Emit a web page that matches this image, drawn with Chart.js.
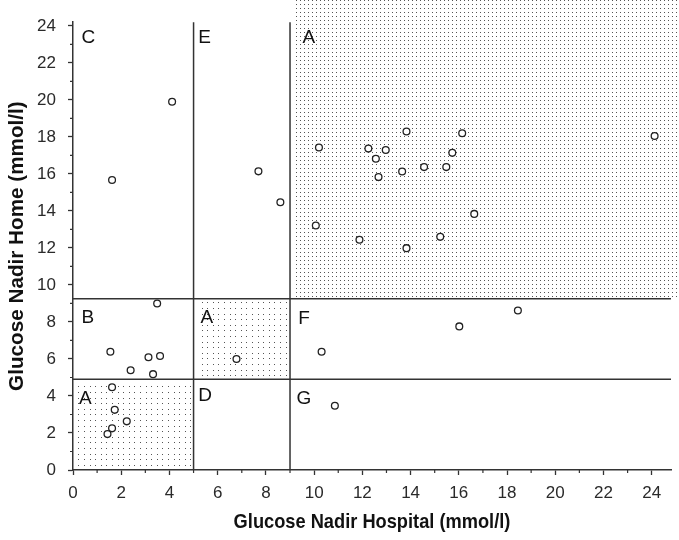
<!DOCTYPE html>
<html><head><meta charset="utf-8">
<script src="https://cdn.jsdelivr.net/npm/chart.js@4/dist/chart.umd.min.js"></script>
<style>html,body{margin:0;padding:0;background:#fff}</style>
</head><body>
<canvas id="c" width="679" height="540"></canvas>
<script>
// Data
const hospital = [1.62, 4.11, 7.69, 8.60,
  10.20, 12.25, 12.97, 12.56, 13.83, 16.14, 24.12, 15.73, 12.67, 13.65, 14.56, 15.48, 16.64, 10.07, 11.88, 15.23, 13.83,
  3.49, 1.55, 3.13, 3.61, 2.39, 3.32, 6.78,
  1.62, 1.73, 2.23, 1.62, 1.43,
  10.31, 16.02, 18.45, 10.86];
const home = [15.67, 19.90, 16.14, 14.47,
  17.43, 17.37, 17.29, 16.82, 18.29, 18.20, 18.05, 17.14, 15.83, 16.13, 16.37, 16.37, 13.84, 13.21, 12.44, 12.60, 11.99,
  9.00, 6.39, 6.09, 6.16, 5.39, 5.18, 6.00,
  4.47, 3.25, 2.63, 2.25, 1.94,
  6.39, 7.76, 8.62, 3.47];
const xCuts = [5, 9];
const yCuts = [4.9, 9.25];
const regionLetters = ['C', 'E', 'A', 'B', 'A', 'F', 'A', 'D', 'G'];
const letterX = [0.35, 5.19, 9.52, 0.35, 5.29, 9.34, 0.25, 5.19, 9.27];
const letterY = [23.35, 23.35, 23.35, 8.22, 8.22, 8.17, 3.86, 4.03, 3.87];
const xLabelValues = [0, 2, 4, 6, 8, 10, 12, 14, 16, 18, 20, 22, 24];
const yLabelValues = [0, 2, 4, 6, 8, 10, 12, 14, 16, 18, 20, 22, 24];
const xTitle = 'Glucose Nadir Hospital (mmol/l)';
const yTitle = 'Glucose Nadir Home (mmol/l)';

const FONT = "'Liberation Sans', Arial, Helvetica, sans-serif";
const INK = '#2a2a2a';
const X_TITLE_SQUEEZE = 0.89;

function stipple(ctx, x1, y1, x2, y2, sp) {
  ctx.save();
  ctx.fillStyle = '#555';
  for (let y = Math.ceil(y1 / sp) * sp; y < y2; y += sp) {
    for (let x = Math.ceil(x1 / sp) * sp; x < x2; x += sp) {
      ctx.fillRect(Math.round(x), Math.round(y), 1, 1);
    }
  }
  ctx.restore();
}

const regionsPlugin = {
  id: 'regions',
  beforeDraw(chart) {
    const s = chart.scales.x;
    if (s && !s._squeezed) {
      const orig = s.drawTitle.bind(s);
      s.drawTitle = function () {
        const ctx = this.ctx, cx = (this.left + this.right) / 2;
        ctx.save();
        ctx.translate(cx, 0); ctx.scale(X_TITLE_SQUEEZE, 1); ctx.translate(-cx, 0);
        orig();
        ctx.restore();
      };
      s._squeezed = true;
    }
  },
  beforeDatasetsDraw(chart) {
    const ctx = chart.ctx;
    const xs = chart.scales.x, ys = chart.scales.y;
    const X = v => xs.getPixelForValue(v), Y = v => ys.getPixelForValue(v);
    const W = chart.width;
    stipple(ctx, X(xCuts[1]) + 2, 0, W, Y(yCuts[1]) - 1, 4);
    stipple(ctx, X(xCuts[0]) + 3, Y(yCuts[1]) + 3, X(xCuts[1]) - 1, Y(yCuts[0]) - 1, 5.6);
    stipple(ctx, X(0) + 3, Y(yCuts[0]) + 3, X(xCuts[0]) - 1, Y(0) - 1, 5.6);
    ctx.save();
    ctx.strokeStyle = '#333';
    ctx.lineWidth = 1.5;
    ctx.beginPath();
    for (const c of xCuts) { ctx.moveTo(X(c), Y(0)); ctx.lineTo(X(c), Y(ys.max)); }
    for (const c of yCuts) { ctx.moveTo(X(0), Y(c)); ctx.lineTo(X(xs.max), Y(c)); }
    ctx.stroke();
    ctx.lineWidth = 1.2;
    ctx.beginPath();
    for (let v = 1; v < 24; v += 2) {
      ctx.moveTo(X(v), Y(0)); ctx.lineTo(X(v), Y(0) + 3);
      ctx.moveTo(X(0), Y(v)); ctx.lineTo(X(0) - 3, Y(v));
    }
    ctx.stroke();
    ctx.fillStyle = '#111';
    ctx.font = '19px ' + FONT;
    ctx.textAlign = 'left';
    ctx.textBaseline = 'middle';
    regionLetters.forEach((t, i) => ctx.fillText(t, X(letterX[i]), Y(letterY[i])));
    ctx.restore();
  }
};

const tickColor = c => (c.tick && c.tick.value % 2 === 0) ? '#333' : 'rgba(0,0,0,0)';

new Chart(document.getElementById('c'), {
  type: 'scatter',
  data: {
    datasets: [{
      data: hospital.map((x, i) => ({ x: x, y: home[i] })),
      pointStyle: 'circle',
      pointRadius: 3.4,
      pointBorderWidth: 1.3,
      pointBorderColor: '#222',
      pointBackgroundColor: '#fff'
    }]
  },
  options: {
    responsive: false,
    devicePixelRatio: 1,
    animation: false,
    layout: { padding: { top: 8, right: 8, left: 0, bottom: 0 } },
    plugins: { legend: { display: false }, tooltip: { enabled: false } },
    scales: {
      x: {
        type: 'linear', min: 0, max: 24.8,
        afterFit: s => { s.height = 70; },
        ticks: {
          stepSize: 1, includeBounds: false, autoSkip: false, maxRotation: 0,
          callback: v => xLabelValues.includes(v) ? String(v) : '',
          color: INK, padding: 8, font: { family: FONT, size: 17 }
        },
        grid: { drawOnChartArea: false, drawTicks: true, tickLength: 5, tickWidth: 1.3, tickColor: tickColor },
        border: { display: true, color: '#333', width: 1.5 },
        title: { display: true, text: xTitle, color: '#111', font: { family: FONT, size: 20.5, weight: 'bold' }, padding: { top: 0, bottom: 5 } }
      },
      y: {
        type: 'linear', min: 0, max: 24.2,
        afterFit: s => { s.width = 73; },
        ticks: {
          stepSize: 1, includeBounds: false, autoSkip: false,
          callback: v => yLabelValues.includes(v) ? String(v) : '',
          color: INK, padding: 12, font: { family: FONT, size: 17 }
        },
        grid: { drawOnChartArea: false, drawTicks: true, tickLength: 5, tickWidth: 1.3, tickColor: tickColor },
        border: { display: true, color: '#333', width: 1.5 },
        title: { display: true, text: yTitle, color: '#111', font: { family: FONT, size: 20.7, weight: 'bold' }, padding: { top: 5, bottom: 0 } }
      }
    }
  },
  plugins: [regionsPlugin]
});
</script>
</body></html>
